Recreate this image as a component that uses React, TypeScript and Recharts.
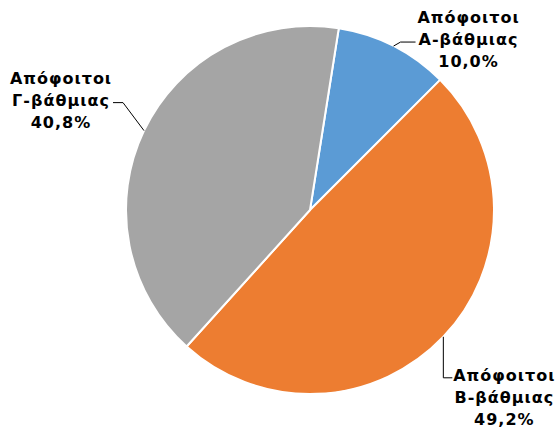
import { PieChart, Pie, Cell } from 'recharts';

const levels = ['Α', 'Β', 'Γ'];
const shares = [10.0, 49.2, 40.8];
const colors = ['#5B9BD5', '#ED7D31', '#A5A5A5'];

const data = levels.map((lvl, i) => ({
  name: `Απόφοιτοι ${lvl}-βάθμιας`,
  value: shares[i],
}));

// leader line + text placement relative to the slice's edge point
const labelLayout = [
  { path: [[0, 0], [7, -4], [22, -4]], dx: 75, dy: -23 },
  { path: [[0, 0], [0, 41], [9, 41]], dx: 61, dy: 44 },
  { path: [[0, 0], [-21, -28], [-31, -28]], dx: -83, dy: -47 },
];

const RAD = Math.PI / 180;

function renderLabel(props: any) {
  const { cx, cy, midAngle, outerRadius, index } = props;
  const ex = cx + outerRadius * Math.cos(-midAngle * RAD);
  const ey = cy + outerRadius * Math.sin(-midAngle * RAD);
  const lay = labelLayout[index];
  const d = lay.path.map((p, i) => `${i === 0 ? 'M' : 'L'}${ex + p[0]},${ey + p[1]}`).join(' ');
  const tx = ex + lay.dx;
  const ty = ey + lay.dy;
  const lines = ['Απόφοιτοι', `${levels[index]}-βάθμιας`, `${shares[index].toFixed(1).replace('.', ',')}%`];
  return (
    <g key={`lbl-${index}`}>
      <path d={d} stroke="#000" strokeWidth={1} fill="none" />
      <text
        x={tx}
        y={ty}
        textAnchor="middle"
        fill="#000"
        fontFamily="'DejaVu Sans', Verdana, sans-serif"
        fontWeight="bold"
        fontSize={16}
        letterSpacing={1}
      >
        {lines.map((l, i) => (
          <tspan key={i} x={tx} y={ty + i * 22}>{l}</tspan>
        ))}
      </text>
    </g>
  );
}

export default function App() {
  return (
    <div style={{ width: 555, height: 430, background: '#fff' }}>
      <style>{`body{margin:0}`}</style>
      <PieChart width={555} height={430} margin={{ top: 0, right: 0, bottom: 0, left: 0 }}>
        <Pie
          data={data}
          dataKey="value"
          cx={310}
          cy={210}
          outerRadius={184}
          startAngle={81}
          endAngle={-279}
          stroke="#fff"
          strokeWidth={2}
          label={renderLabel}
          labelLine={false}
          isAnimationActive={false}
        >
          {data.map((_, i) => (
            <Cell key={`cell-${i}`} fill={colors[i]} />
          ))}
        </Pie>
      </PieChart>
    </div>
  );
}
